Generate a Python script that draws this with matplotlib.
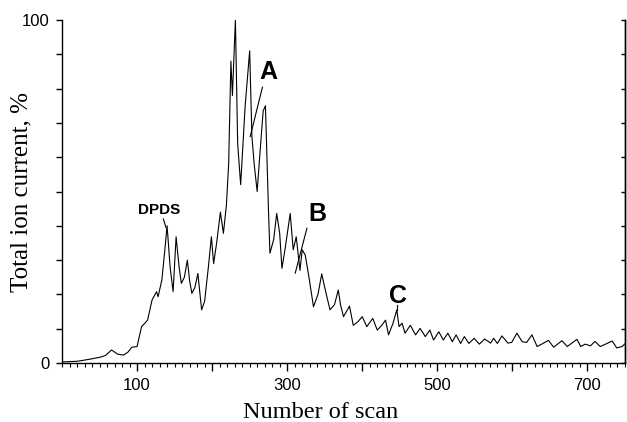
import matplotlib
matplotlib.use("Agg")
import matplotlib.pyplot as plt
from matplotlib.ticker import MultipleLocator, FixedLocator

# ---- data ----
scan = [0, 20, 37, 51, 58, 66, 74, 82, 88, 93, 100, 106, 110, 114, 120, 126, 128, 133,
        137, 140, 144, 148, 152, 156, 159, 163, 167, 170, 173, 177, 181, 186, 190, 195,
        199, 202, 206, 211, 215, 219, 222, 225, 227, 231, 234, 238, 244, 250, 253, 256,
        260, 264, 268, 271, 275, 277, 282, 286, 290, 293, 297, 299, 304, 308, 312, 317,
        320, 324, 329, 335, 341, 346, 350, 357, 363, 368, 371, 375, 383, 388, 394, 400,
        406, 414, 420, 426, 431, 435, 441, 446, 449, 453, 457, 464, 471, 477, 484, 490,
        495, 502, 508, 514, 520, 525, 531, 536, 542, 549, 556, 563, 571, 575, 580, 586,
        594, 599, 606, 613, 619, 626, 633, 639, 648, 655, 666, 673, 686, 691, 697, 704,
        710, 717, 724, 733, 739, 746, 750]
tic = [0.3, 0.5, 1.1, 1.7, 2.2, 3.8, 2.6, 2.3, 3.2, 4.6, 4.8, 10.6, 11.5, 12.5, 18.4, 20.8,
       19.3, 24.2, 33, 40, 28, 20.8, 36.8, 28, 23.2, 25, 30, 24, 20.3, 22, 26.1, 15.5, 18,
       28, 36.8, 29, 35, 44, 37.8, 46, 58, 88, 78, 100, 64, 52, 75, 91, 66, 58,
       50, 62, 73.5, 75, 45, 32, 36, 43.6, 37.8, 27.6, 33, 36, 43.6, 33, 36.8, 27,
       33, 31.5, 25, 16.4, 20, 26, 22, 15.5, 17, 21.3, 17, 13.5, 16.6, 11, 12, 13.5,
       10.6, 13, 9.6, 11, 12.5, 8.2, 11.6, 15.5, 10.6, 11.6, 8.7, 11, 8.2, 10.1, 7.7, 9.6,
       6.7, 9.1, 6.7, 8.7, 6.2, 8.2, 5.7, 7.7, 5.7, 7.2, 5.5, 7.0, 5.8, 7.2, 5.7, 7.9,
       5.8, 6.0, 8.7, 6.2, 6.0, 8.2, 4.8, 5.5, 6.6, 4.6, 6.5, 4.8, 6.9, 4.8, 5.5, 5.0,
       6.3, 4.8, 5.5, 6.4, 4.4, 4.8, 5.6]
x_ticklabels = ["100", "300", "500", "700"]
x_labelled = [100, 300, 500, 700]
y_ticklabels = ["0", "100"]
y_labelled = [0, 100]

# annotations: (label, text_x, text_y, line_from, line_to, fontsize)
notes = [
    ("A", 274.7, 84.8, (267.0, 80.4), (250.7, 66.0), 18),
    ("B", 340.0, 43.4, (326.3, 39.3), (310.7, 26.2), 18),
    ("C", 448.0, 19.4, (446.3, 17.0), (446.3, 15.5), 18),
    ("DPDS", 129.3, 44.6, (135.0, 42.0), (138.5, 39.5), 11),
]

W, H = 627, 422
fig = plt.figure(figsize=(W / 100, H / 100), dpi=100)
ax = fig.add_axes([62 / W, 1 - 363 / H, (625 - 62) / W, (363 - 20) / H])

ax.plot(scan, tic, color="black", lw=0.8)
ax.set_xlim(0, 750)
ax.set_ylim(0, 100)

ax.spines["top"].set_visible(False)
for s in ["left", "bottom", "right"]:
    ax.spines[s].set_linewidth(1.0)

all_major = [100, 200, 300, 400, 500, 600, 700]
ax.xaxis.set_minor_locator(MultipleLocator(10))
ax.set_xticks(all_major)
ax.set_xticklabels([x_ticklabels[x_labelled.index(v)] if v in x_labelled else ""
                    for v in all_major])
yt = list(range(0, 101, 10))
ax.yaxis.set_major_locator(FixedLocator(yt))
ax.set_yticklabels([y_ticklabels[y_labelled.index(v)] if v in y_labelled else ""
                    for v in yt])

ax.tick_params(axis="x", which="major", direction="out", length=6, width=1,
               labelsize=12, pad=5)
ax.tick_params(axis="x", which="minor", direction="out", length=3, width=0.8)
ax.tick_params(axis="y", which="major", direction="out", length=4, width=1,
               labelsize=12, pad=5)
for lab in ax.get_xticklabels() + ax.get_yticklabels():
    lab.set_family("Liberation Sans")

# right-side inward ticks
axr = ax.twinx()
axr.set_ylim(0, 100)
axr.yaxis.set_major_locator(FixedLocator(yt))
axr.tick_params(axis="y", direction="in", length=3, width=1, labelright=False)
for s in ["top", "left", "bottom"]:
    axr.spines[s].set_visible(False)
axr.spines["right"].set_linewidth(1.0)

for txt, tx, ty, p0, p1, fs in notes:
    ax.text(tx, ty, txt, ha="center", va="center", fontsize=fs,
            fontweight="bold", family="Liberation Sans")
    ax.plot([p0[0], p1[0]], [p0[1], p1[1]], color="black", lw=0.8)

fig.text(321 / W, 1 - 418 / H, "Number of scan", ha="center", va="baseline",
         fontsize=17.5, family="Liberation Serif")
fig.text(21 / W, 1 - 192 / H, "Total ion current, %", ha="center", va="center",
         rotation=90, fontsize=18, family="Liberation Serif")

fig.savefig("out.png", dpi=100)
